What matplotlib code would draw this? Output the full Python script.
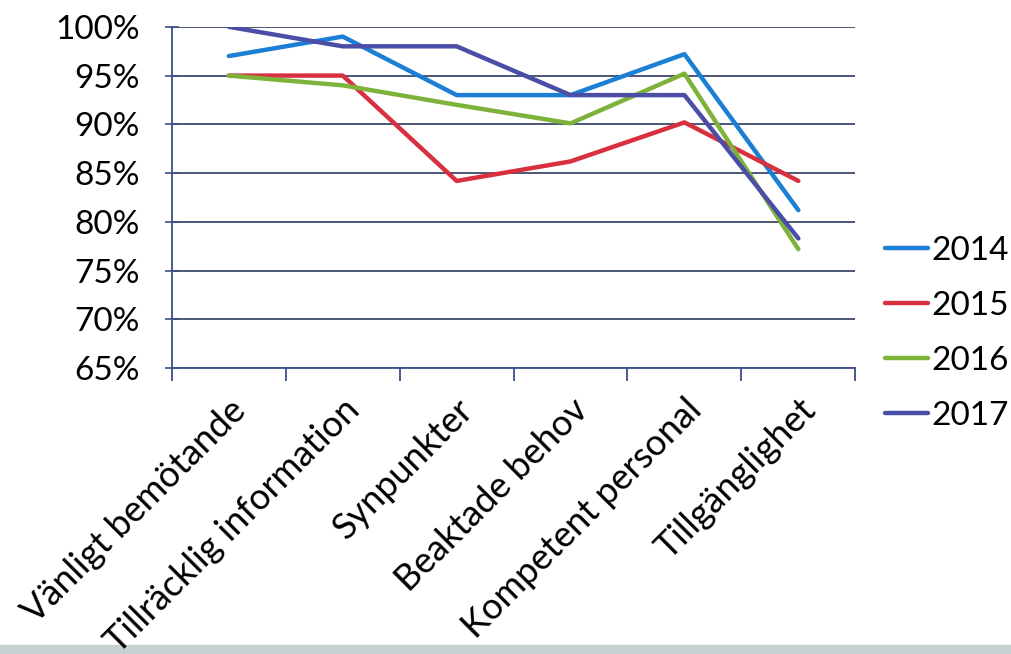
import numpy as np
import matplotlib.pyplot as plt
from matplotlib.patches import Rectangle

plt.rcParams['font.family'] = ['Lato', 'DejaVu Sans']

kategorier = ['Vänligt bemötande', 'Tillräcklig information', 'Synpunkter',
              'Beaktade behov', 'Kompetent personal', 'Tillgänglighet']
ar = ['2014', '2015', '2016', '2017']
v2014 = [97, 99, 93, 93, 97.2, 81.2]
v2015 = [95, 95, 84.2, 86.2, 90.2, 84.2]
v2016 = [95, 94, 92, 90.1, 95.2, 77.2]
v2017 = [100, 98, 98, 93, 93, 78.3]
farger = ['#1b7fd6', '#d8303f', '#7db33a', '#4a4ea6']

fig = plt.figure(figsize=(10.11, 6.54), dpi=100)
ax = fig.add_axes([0.170, 0.437, 0.676, 0.522])

x = np.arange(len(kategorier))
for serie, namn, f in zip([v2014, v2015, v2016, v2017], ar, farger):
    ax.plot(x, serie, color=f, lw=3.2, label=namn, solid_capstyle='round')

ax.set_xlim(-0.5, len(kategorier) - 0.5)
ax.set_ylim(65, 100)
ax.set_yticks(np.arange(65, 101, 5))
ax.set_yticklabels(['%d%%' % v for v in np.arange(65, 101, 5)], fontsize=24)
ax.grid(axis='y', color='#3d4a6a', lw=1.3)
ax.set_axisbelow(True)

ax.set_xticks(x)
ax.set_xticklabels(kategorier, rotation=45, ha='right', rotation_mode='anchor',
                   fontsize=26)
ax.tick_params(axis='x', which='major', length=0, pad=18)
ax.set_xticks(np.arange(-0.5, len(kategorier)), minor=True)
ax.tick_params(axis='x', which='minor', length=9, width=1.3, color='#3a4f8a',
               direction='out')
ax.tick_params(axis='y', length=10, width=1.2, color='#3a4f8a',
               direction='inout', pad=18)

for s in ['top', 'right']:
    ax.spines[s].set_visible(False)
for s in ['left', 'bottom']:
    ax.spines[s].set_color('#3a4f8a')
    ax.spines[s].set_linewidth(1.3)

fig.legend(loc='upper left', bbox_to_anchor=(0.862, 0.66), frameon=False,
           fontsize=24, handlelength=1.3, handletextpad=0.1, labelspacing=0.75,
           borderaxespad=0)

fig.patches.append(Rectangle((0, 0), 1, 0.014, transform=fig.transFigure,
                             color='#c9d0d1', zorder=-1))

plt.savefig('out.png', dpi=100)
